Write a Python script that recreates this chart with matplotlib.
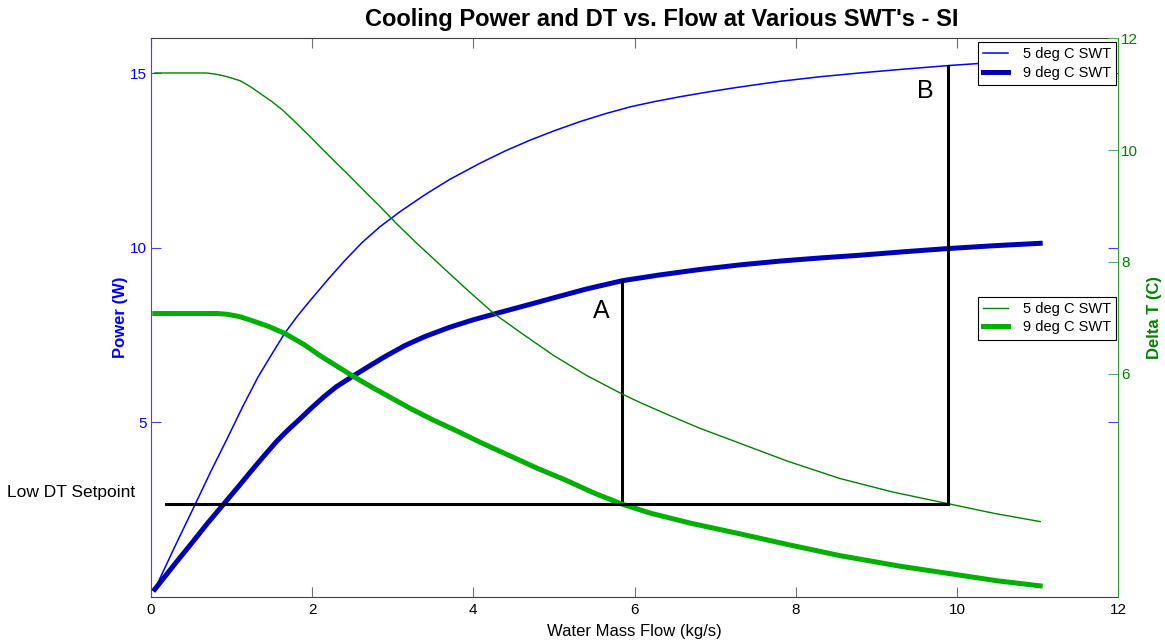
import numpy as np
import matplotlib
matplotlib.use('Agg')
import matplotlib.pyplot as plt

plt.rcParams['font.family'] = ['Liberation Sans', 'DejaVu Sans']

# power curves (W) vs water mass flow (kg/s)
flow_p5 = [0.05, 0.30, 0.55, 0.75, 0.94, 1.14, 1.33, 1.50, 1.66, 1.82, 1.98, 2.20,
           2.40, 2.62, 2.84, 3.10, 3.40, 3.70, 4.08, 4.40, 4.70, 5.00, 5.33, 5.65,
           5.95, 6.25, 6.57, 6.90, 7.20, 7.50, 7.81, 8.30, 8.80, 9.30, 9.89, 10.40, 11.03]
power_5c = [0.22, 1.45, 2.65, 3.62, 4.50, 5.45, 6.30, 6.95, 7.55, 8.05, 8.50, 9.10,
            9.62, 10.15, 10.60, 11.05, 11.52, 11.95, 12.42, 12.78, 13.08, 13.35, 13.62, 13.85,
            14.04, 14.19, 14.33, 14.46, 14.57, 14.67, 14.77, 14.90, 15.01, 15.11, 15.22, 15.30, 15.39]

flow_p9 = [0.05, 0.30, 0.50, 0.70, 0.90, 1.10, 1.25, 1.40, 1.57, 1.70, 1.85, 2.00,
           2.15, 2.30, 2.51, 2.70, 2.90, 3.15, 3.40, 3.70, 4.00, 4.33, 4.70, 5.00,
           5.40, 5.85, 6.30, 6.81, 7.30, 7.80, 8.30, 8.80, 9.35, 9.89, 10.45, 11.03]
power_9c = [0.22, 0.95, 1.52, 2.10, 2.65, 3.20, 3.62, 4.03, 4.48, 4.78, 5.10, 5.43,
            5.74, 6.02, 6.33, 6.60, 6.88, 7.20, 7.46, 7.72, 7.94, 8.15, 8.38, 8.57,
            8.82, 9.06, 9.22, 9.38, 9.51, 9.62, 9.71, 9.79, 9.89, 9.98, 10.06, 10.13]

# delta T curves (C)
flow_t5 = [0.05, 0.69, 0.80, 0.90, 1.00, 1.11, 1.23, 1.35, 1.50, 1.64, 1.80, 1.97,
           2.14, 2.30, 2.47, 2.64, 2.85, 3.05, 3.30, 3.60, 3.90, 4.25, 4.60, 5.00,
           5.40, 5.85, 6.07, 6.45, 6.81, 7.31, 7.90, 8.55, 9.20, 9.89, 10.45, 11.03]
dt_5c = [11.38, 11.38, 11.36, 11.33, 11.29, 11.24, 11.14, 11.02, 10.87, 10.71, 10.49, 10.25,
         10.00, 9.77, 9.53, 9.28, 8.98, 8.68, 8.33, 7.93, 7.53, 7.08, 6.72, 6.32,
         5.97, 5.63, 5.48, 5.24, 5.02, 4.75, 4.43, 4.12, 3.88, 3.67, 3.50, 3.35]

flow_t9 = [0.05, 0.82, 0.95, 1.10, 1.23, 1.45, 1.66, 1.90, 2.10, 2.30, 2.51, 2.75,
           3.00, 3.22, 3.50, 3.80, 4.10, 4.45, 4.80, 5.15, 5.50, 5.85, 6.20, 6.70,
           7.31, 7.90, 8.55, 9.30, 10.04, 10.50, 11.03]
dt_9c = [7.075, 7.075, 7.06, 7.02, 6.96, 6.85, 6.72, 6.52, 6.32, 6.14, 5.95, 5.75,
         5.55, 5.375, 5.17, 4.97, 4.76, 4.53, 4.30, 4.09, 3.86, 3.66, 3.50, 3.32,
         3.13, 2.94, 2.74, 2.55, 2.39, 2.29, 2.20]

low_dt_setpoint = 3.66
setpoint_start = 0.19
flow_a = 5.85
flow_b = 9.89

legend_labels = ['5 deg C SWT', '9 deg C SWT']

blue_thin = '#0000ff'
blue_thick = '#0000b4'
green_thin = '#008000'
green_thick = '#00b000'

fig = plt.figure(figsize=(11.65, 6.41), dpi=100)
ax1 = fig.add_axes([0.1294, 0.0686, 0.8306, 0.8716])
ax2 = ax1.twinx()

l1, = ax1.plot(flow_p5, power_5c, color=blue_thin, lw=1.1)
l2, = ax1.plot(flow_p9, power_9c, color=blue_thick, lw=3.6)
g1, = ax2.plot(flow_t5, dt_5c, color=green_thin, lw=1.0)
g2, = ax2.plot(flow_t9, dt_9c, color=green_thick, lw=3.6)

ax1.set_xlim(0, 12)
ax1.set_ylim(0, 16)
ax2.set_ylim(2, 12)

# setpoint line and the two operating points
ax2.plot([setpoint_start, flow_b], [low_dt_setpoint, low_dt_setpoint], color='black', lw=2.2, zorder=5)
p_set = (low_dt_setpoint - 2) / 10 * 16
top_a = np.interp(flow_a, flow_p9, power_9c)
top_b = np.interp(flow_b, flow_p5, power_5c)
ax1.plot([flow_a, flow_a], [p_set, top_a], color='black', lw=2.2, zorder=5)
ax1.plot([flow_b, flow_b], [p_set, top_b], color='black', lw=2.2, zorder=5)
ax1.text(5.59, 8.19, 'A', fontsize=18, ha='center', va='center')
ax1.text(9.60, 14.5, 'B', fontsize=18, ha='center', va='center')
fig.text(0.0057, 0.2314, 'Low DT Setpoint', fontsize=12.5, ha='left', va='center')

ttl = ax1.set_title("Cooling Power and DT vs. Flow at Various SWT's - SI", fontsize=17,
                    fontweight='bold', pad=9)
ttl.set_x(0.528)
ax1.set_xlabel('Water Mass Flow (kg/s)', fontsize=12, labelpad=5)
ax1.set_ylabel('Power (W)', fontsize=12, fontweight='bold', color=blue_thin, labelpad=1)
ax2.set_ylabel('Delta T (C)', fontsize=12, fontweight='bold', color=green_thin, labelpad=6)

ax1.set_xticks(np.arange(0, 13, 2))
ax1.set_yticks([5, 10, 15])
ax2.set_yticks([6, 8, 10, 12])

ax1.tick_params(axis='x', direction='in', length=7, top=True, color='#707070',
                labelcolor='black', labelsize=11, pad=4)
ax1.tick_params(axis='y', direction='in', length=7, right=True, color='#4040ff',
                labelcolor=blue_thin, labelsize=11, pad=3)
ax2.tick_params(axis='y', direction='in', length=7, color='#50b050',
                labelcolor=green_thin, labelsize=11, pad=2)

for s in ['top', 'bottom']:
    ax1.spines[s].set_color('#404040')
ax1.spines['left'].set_color('#4040ff')
ax1.spines['right'].set_visible(False)
for s in ['top', 'bottom', 'left']:
    ax2.spines[s].set_visible(False)
ax2.spines['right'].set_color('#30a030')

leg_kw = dict(loc='upper right', fontsize=10.5, fancybox=False, framealpha=1,
              edgecolor='black', handlelength=1.7, borderpad=0.35, labelspacing=0.3,
              handletextpad=1.0, borderaxespad=0)
leg1 = ax2.legend([l1, l2], legend_labels, bbox_to_anchor=(0.958, 0.934),
                  bbox_transform=fig.transFigure, **leg_kw)
leg1.get_frame().set_linewidth(0.8)
ax2.add_artist(leg1)
leg2 = ax2.legend([g1, g2], legend_labels, bbox_to_anchor=(0.958, 0.5367),
                  bbox_transform=fig.transFigure, **leg_kw)
leg2.get_frame().set_linewidth(0.8)
leg1.set_zorder(10)
leg2.set_zorder(10)

fig.savefig('out.png', dpi=100)
